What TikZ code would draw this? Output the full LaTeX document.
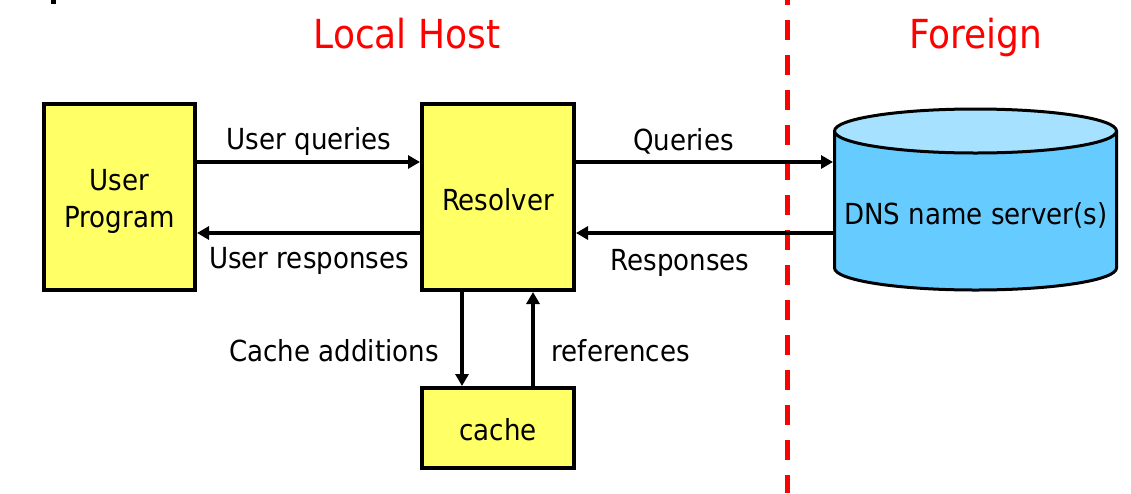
\documentclass[tikz,border=0pt]{standalone}
\usepackage{fontspec}
\setmainfont{DejaVu Sans Condensed}
\usetikzlibrary{arrows.meta}
\definecolor{boxyellow}{HTML}{FFFF66}
\definecolor{cylbody}{HTML}{66CCFF}
\definecolor{cyltop}{HTML}{A6E2FF}
\definecolor{hostred}{HTML}{FF0000}
\newcommand{\dnshift}[2]{\raisebox{-#1}[\height][\depth]{#2}}
\begin{document}
\begin{tikzpicture}[x=1pt,y=-1pt,
  box/.style={draw=black, fill=boxyellow, line width=4pt, align=center, inner sep=0pt, font=\fontsize{29}{37}\selectfont},
  arr/.style={line width=3.6pt, -{Triangle[length=12pt,width=13pt]}},
  lbl/.style={anchor=base, inner sep=0pt, font=\fontsize{29}{36}\selectfont},
  title/.style={anchor=base, inner sep=0pt, text=hostred, font=\fontsize{40}{48}\selectfont}]
\useasboundingbox (0,0) rectangle (1131,493);
% fragment at top-left
\fill[black] (51,0) rectangle (56,4);
% titles
\node[title] (tlocal) at (407,48) {Local Host};
\node[title] (tforeign) at (976,48) {Foreign};
% divider
\draw[hostred, line width=5pt, dash pattern=on 20pt off 15pt] (787,-15) -- (787,493);
% boxes
\node[box, minimum width=151pt, minimum height=186pt] (up) at (119.5,197) {\dnshift{4.5pt}{User}\\\dnshift{4.5pt}{Program}};
\node[box, minimum width=152pt, minimum height=186pt] (res) at (498,197) {\dnshift{3pt}{Resolver}};
\node[box, minimum width=152pt, minimum height=80pt] (cache) at (498,428) {\dnshift{2pt}{cache}};
% cylinder
\fill[cylbody] (834.5,131) -- (834.5,268) arc[start angle=180,end angle=0,x radius=141,y radius=22] -- (1116.5,131) -- cycle;
\draw[line width=3pt] (834.5,131) -- (834.5,268) arc[start angle=180,end angle=0,x radius=141,y radius=22] -- (1116.5,131);
\draw[line width=3pt, fill=cyltop] (975.5,131) ellipse [x radius=141, y radius=22];
\node[inner sep=0pt, outer sep=0pt, minimum width=285pt, minimum height=160pt] (dns) at (975.5,200) {};
\node[lbl] (dnstext) at (976,224) {DNS name server(s)};
% connectors
\draw[arr] ([yshift=35pt]up.east) -- ([yshift=35pt]res.west);
\draw[arr] ([yshift=-36pt]res.west) -- ([yshift=-36pt]up.east);
\draw[arr] ([yshift=35pt]res.east) -- ([yshift=38pt]dns.west);
\draw[arr] ([yshift=-33pt]dns.west) -- ([yshift=-36pt]res.east);
\draw[arr] ([xshift=-36pt]res.south) -- ([xshift=-36pt]cache.north);
\draw[arr] ([xshift=35pt]cache.north) -- ([xshift=35pt]res.south);
% labels
\node[lbl] (luq) at (309,149) {User queries};
\node[lbl] (lur) at (309,268) {User responses};
\node[lbl] (lq) at (683.5,150) {Queries};
\node[lbl] (lr) at (680,270) {Responses};
\node[lbl, anchor=base east] (lca) at (439,361) {Cache additions};
\node[lbl, anchor=base west] (lref) at (551.5,361) {references};
\end{tikzpicture}
\end{document}
